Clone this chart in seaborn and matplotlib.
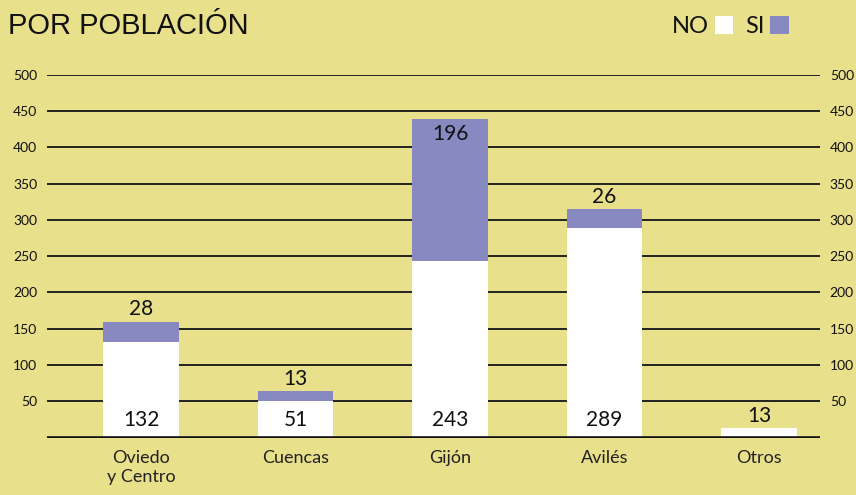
import pandas as pd
import matplotlib.pyplot as plt
from matplotlib.patches import Patch
import seaborn as sns

# datos
categories = ["Oviedo\ny Centro", "Cuencas", "Gijón", "Avilés", "Otros"]
no_values = [132, 51, 243, 289, 13]
si_values = [28, 13, 196, 26, 0]
y_ticks = [50, 100, 150, 200, 250, 300, 350, 400, 450, 500]

bg = "#E9E08B"
si_color = "#8789C0"
no_color = "#FFFFFF"

sns.set_theme(style="white")
plt.rcParams["font.family"] = ["Lato", "DejaVu Sans"]

df = pd.DataFrame({"zona": categories, "NO": no_values, "SI": si_values})
df["total"] = df["NO"] + df["SI"]

fig = plt.figure(figsize=(8.56, 4.95), dpi=100, facecolor=bg)
ax = fig.add_axes([0.055, 0.1158, 0.903, 0.7333], facecolor=bg)

for y in y_ticks:
    ax.axhline(y, color="#222222", lw=1.4, zorder=0)
ax.axhline(0, color="#111111", lw=2.6, zorder=3)

sns.barplot(data=df, x="zona", y="total", color=si_color, width=0.49,
            saturation=1, ax=ax, zorder=2, edgecolor="none", linewidth=0)
sns.barplot(data=df, x="zona", y="NO", color=no_color, width=0.49,
            saturation=1, ax=ax, zorder=2, edgecolor="none", linewidth=0)

num_size = 15
for i, row in df.iterrows():
    if row["SI"] > 0:
        ax.text(i, 10, str(row["NO"]), ha="center", va="bottom", fontsize=num_size,
                color="#111111", zorder=4)
        if row["total"] > 420:
            ax.text(i, row["total"] - 7, str(row["SI"]), ha="center", va="top",
                    fontsize=num_size, color="#111111", zorder=4)
        else:
            ax.text(i, row["total"] + 3, str(row["SI"]), ha="center", va="bottom",
                    fontsize=num_size, color="#111111", zorder=4)
    else:
        ax.text(i, row["total"] + 3, str(row["NO"]), ha="center", va="bottom",
                fontsize=num_size, color="#111111", zorder=4)

ax.set_xlim(-0.608, 4.395)
ax.set_ylim(0, 500)
ax.set_yticks(y_ticks)
ax.tick_params(axis="y", length=0, pad=7, labelsize=10, labelcolor="#111111",
               left=True, right=True, labelleft=True, labelright=True)
ax.tick_params(axis="x", length=0, pad=9, labelsize=13, labelcolor="#222222")
ax.set_xlabel("")
ax.set_ylabel("")
for s in ax.spines.values():
    s.set_visible(False)

fig.text(0.009, 0.932, "POR POBLACIÓN", fontsize=21, family="Liberation Sans",
         color="#111111", va="baseline")

handles = [Patch(facecolor=no_color, edgecolor="none", label="NO"),
           Patch(facecolor=si_color, edgecolor="none", label="SI")]
leg = fig.legend(handles=handles, loc="upper right", bbox_to_anchor=(0.947, 1.011),
                 ncol=2, markerfirst=False, frameon=False, fontsize=17,
                 handlelength=0.8, handleheight=0.8, handletextpad=0.25,
                 columnspacing=0.5)
for t in leg.get_texts():
    t.set_color("#111111")

fig.savefig("out.png", dpi=100, facecolor=bg)
